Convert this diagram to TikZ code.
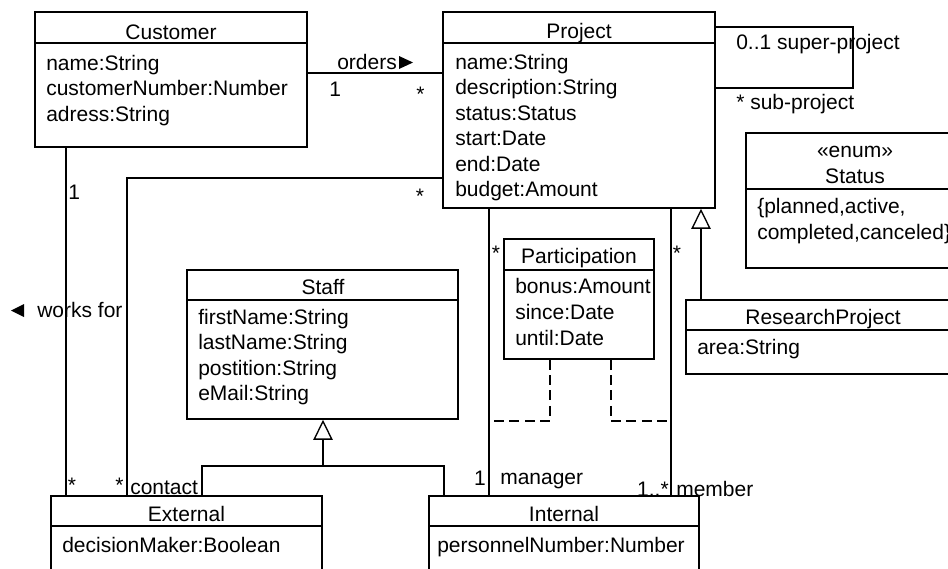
\documentclass[tikz,border=0pt]{standalone}
\usepackage{fontspec}
\setmainfont{Liberation Sans}
\usetikzlibrary{arrows.meta,fit}
\begin{document}
\begin{tikzpicture}[x=0.75pt,y=-0.75pt,
  every node/.style={font=\fontsize{15.75}{19}\selectfont, inner sep=0pt},
  cls/.style={draw, line width=1.2pt, inner sep=0pt, fit={#1}},
  hdr/.style={line width=1.2pt},
  ttl/.style={anchor=base},
  attr/.style={anchor=base west},
  lbl/.style={anchor=base west},
  lble/.style={anchor=base east},
  star/.style={anchor=base},
  assoc/.style={line width=1pt},
  dsh/.style={line width=1pt, dash pattern=on 7.5pt off 4pt},
  gen/.style={line width=1pt, -{Triangle[open, length=15pt, width=14.5pt]}}]
\useasboundingbox (0,0) rectangle (948,568);
\clip (0,0) rectangle (948,568);
\fill[white] (0,0) rectangle (948,568);

% ---------- classes ----------
\node[cls={(35,12) (307,147)}] (customer) {};
\draw[hdr] (customer.west |- 0,43) -- (customer.east |- 0,43);
\node[ttl] (cu-t) at (171,39) {Customer};
\node[attr] (cu-a1) at (46,70) {name:String};
\node[attr] (cu-a2) at (46,95.5) {customerNumber:Number};
\node[attr] (cu-a3) at (46,121) {adress:String};

\node[cls={(443,12) (715,208)}] (project) {};
\draw[hdr] (project.west |- 0,43) -- (project.east |- 0,43);
\node[ttl] (pr-t) at (579,38) {Project};
\node[attr] (pr-a1) at (455,69) {name:String};
\node[attr] (pr-a2) at (455,94.5) {description:String};
\node[attr] (pr-a3) at (455,120) {status:Status};
\node[attr] (pr-a4) at (455,145.5) {start:Date};
\node[attr] (pr-a5) at (455,171) {end:Date};
\node[attr] (pr-a6) at (455,196.5) {budget:Amount};

\node[cls={(746,133) (964,268)}] (status) {};
\draw[hdr] (status.west |- 0,189) -- (status.east |- 0,189);
\node[ttl] (st-s) at (855,157) {«enum»};
\node[ttl] (st-t) at (855,183) {Status};
\node[attr] (st-a1) at (757,213) {\{planned,active,};
\node[attr] (st-a2) at (757,239) {completed,canceled\}};

\node[cls={(686,300) (960,374)}] (rp) {};
\draw[hdr] (rp.west |- 0,330) -- (rp.east |- 0,330);
\node[ttl] (rp-t) at (823,324) {ResearchProject};
\node[attr] (rp-a1) at (697,354) {area:String};

\node[cls={(504,239) (654,359)}] (participation) {};
\draw[hdr] (participation.west |- 0,270) -- (participation.east |- 0,270);
\node[ttl] (pa-t) at (579,263) {Participation};
\node[attr] (pa-a1) at (515,293) {bonus:Amount};
\node[attr] (pa-a2) at (515,319) {since:Date};
\node[attr] (pa-a3) at (515,345) {until:Date};

\node[cls={(187,270) (458,419)}] (staff) {};
\draw[hdr] (staff.west |- 0,300) -- (staff.east |- 0,300);
\node[ttl] (sf-t) at (323,294) {Staff};
\node[attr] (sf-a1) at (198,324) {firstName:String};
\node[attr] (sf-a2) at (198,349.5) {lastName:String};
\node[attr] (sf-a3) at (198,375) {postition:String};
\node[attr] (sf-a4) at (198,400.5) {eMail:String};

\node[cls={(51,496) (322,580)}] (external) {};
\draw[hdr] (external.west |- 0,526) -- (external.east |- 0,526);
\node[ttl] (ex-t) at (186.5,521) {External};
\node[attr] (ex-a1) at (62,552) {decisionMaker:Boolean};

\node[cls={(429,496) (699,580)}] (internal) {};
\draw[hdr] (internal.west |- 0,526) -- (internal.east |- 0,526);
\node[ttl] (in-t) at (564,521) {Internal};
\node[attr] (in-a1) at (437,552) {personnelNumber:Number};

% ---------- associations ----------
\draw[assoc] (customer.east |- 0,73) -- (project.west |- 0,73);
\node[lbl] (orders) at (337,69) {orders};
\fill (399,56) -- (399,69) -- (413,62.5) -- cycle;
\node[lbl] (m-o1) at (329,96) {1};
\node[star] (m-o2) at (420.5,101.5) {*};

\coordinate (loopc) at (853,88);
\draw[assoc] (project.east |- 0,27) -| (loopc) -- (project.east |- 0,88);
\node[lbl] (super) at (736,49) {0..1 super-project};
\node[lbl] (sub) at (736,109) {* sub-project};

\draw[assoc] (customer.south -| 66,0) -- (external.north -| 66,0);
\node[lbl] (m-w1) at (68,199) {1};
\node[star] (m-w2) at (72,492) {*};
\node[lbl] (worksfor) at (37,317) {works for};
\fill (24,304) -- (24,317) -- (11,310.5) -- cycle;

\draw[assoc] (project.west |- 0,178) -| (external.north -| 127,0);
\node[star] (m-c1) at (420,203) {*};
\node[star] (m-c2) at (119.5,492) {*};
\node[lbl] (contact) at (130,494) {contact};

\draw[assoc] (project.south -| 489,0) -- (internal.north -| 489,0);
\draw[assoc] (project.south -| 671,0) -- (internal.north -| 671,0);
\node[star] (m-p1) at (496,260) {*};
\node[star] (m-p2) at (677,260) {*};
\node[lble] (m-mg) at (486,485) {1};
\node[lbl] (manager) at (500,484) {manager};
\node[lble] (m-mb) at (669,496) {1..*};
\node[lbl] (member) at (676,496) {member};

\coordinate (mgrj) at (489,421);
\coordinate (memj) at (671,421);
\draw[dsh] (participation.south -| 550,0) |- (mgrj);
\draw[dsh] (participation.south -| 611,0) |- (memj);

% ---------- generalizations ----------
\draw[gen] (rp.north -| 701,0) -- (project.south -| 701,0);
\coordinate (gj) at (323,466);
\draw[gen] (external.north -| 202,0) |- (gj) -- (staff.south -| 323,0);
\draw[assoc] (internal.north -| 444,0) |- (gj);
\end{tikzpicture}
\end{document}
